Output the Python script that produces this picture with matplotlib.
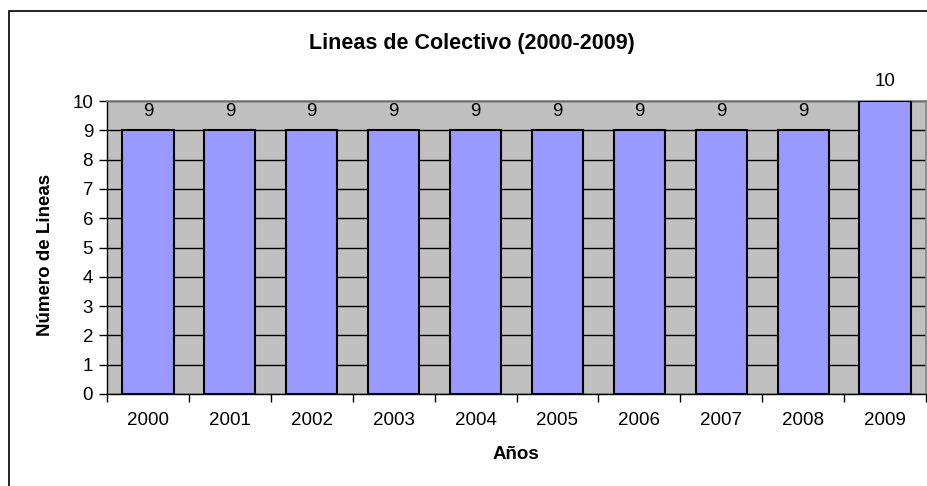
import matplotlib
matplotlib.use("Agg")
import matplotlib.pyplot as plt
from matplotlib.patches import Rectangle
import numpy as np

plt.rcParams['font.family'] = ['Liberation Sans', 'DejaVu Sans']

years = ["2000", "2001", "2002", "2003", "2004", "2005", "2006", "2007", "2008", "2009"]
lines = [9, 9, 9, 9, 9, 9, 9, 9, 9, 10]
title = "Lineas de Colectivo (2000-2009)"
xlabel = "Años"
ylabel = "Número de Lineas"

W, H = 927, 486
fig = plt.figure(figsize=(W / 100, H / 100), dpi=100)
ax = fig.add_axes([107 / W, 1 - 394 / H, (926 - 107) / W, (394 - 101) / H])
ax.set_facecolor("#C0C0C0")

x = np.arange(len(years))
bars = ax.bar(x, lines, width=0.625, color="#9999FF", edgecolor="black", linewidth=1.5, zorder=3)
for xi, v in zip(x, lines):
    ax.text(xi, v + 0.5, str(v), ha="center", va="baseline", fontsize=13.5, zorder=4, clip_on=False)

ax.set_xlim(-0.5, len(years) - 0.5)
ax.set_ylim(0, 10)
ax.set_yticks(range(0, 11))
ax.yaxis.grid(True, color="black", linewidth=1.0, zorder=1)
ax.set_axisbelow(True)

ax.set_xticks(np.arange(-0.5, len(years), 1.0))
ax.set_xticklabels([])
ax.set_xticks(x, minor=True)
ax.set_xticklabels(years, minor=True)
ax.tick_params(axis="x", which="minor", length=0, pad=13, labelsize=13.5)
ax.tick_params(axis="x", which="major", length=6, width=1, direction="out", color="black")
ax.tick_params(axis="y", length=6, width=1, direction="out", labelsize=13.5, pad=4)

for s in ["top", "right"]:
    ax.spines[s].set_color("#808080")
    ax.spines[s].set_linewidth(1.2)
for s in ["left", "bottom"]:
    ax.spines[s].set_color("black")
    ax.spines[s].set_linewidth(1.0)

fig.text(516 / W, 1 - 454 / H, xlabel, ha="center", va="center", fontsize=13.5, fontweight="bold")
fig.text(46 / W, 1 - 255 / H, ylabel, ha="center", va="center", rotation=90, fontsize=13.5, fontweight="bold")
fig.text(472 / W, 1 - 44 / H, title, ha="center", va="center", fontsize=15.5, fontweight="bold")

border = Rectangle((8.5 / W, -0.1), 1.2, 1 - 11.5 / H + 0.1, transform=fig.transFigure,
                   fill=False, edgecolor="black", linewidth=1.2, clip_on=False)
fig.patches.append(border)

fig.savefig("out.png", dpi=100)
